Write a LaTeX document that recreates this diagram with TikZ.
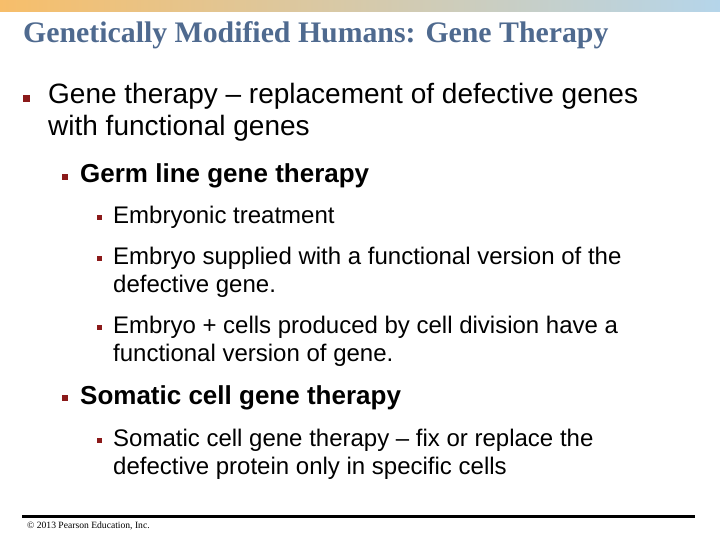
\documentclass[tikz,border=0pt]{standalone}
\usepackage{fontspec}
\setmainfont{Liberation Serif}
\setsansfont{Liberation Sans}
\definecolor{titleblue}{HTML}{4F6A8F}
\definecolor{bulletred}{HTML}{8B1A1A}
\definecolor{barorange}{HTML}{F7BE6A}
\definecolor{barblue}{HTML}{B5D5EA}
\tikzset{
  lone/.style={anchor=base west,inner sep=0pt,font=\sffamily\fontsize{28}{28}\selectfont},
  ltwo/.style={anchor=base west,inner sep=0pt,font=\sffamily\bfseries\fontsize{26}{26}\selectfont},
  lthree/.style={anchor=base west,inner sep=0pt,font=\sffamily\fontsize{24}{24}\selectfont},
  blt/.style={fill=bulletred,minimum size=#1,inner sep=0pt,anchor=south west}
}
\begin{document}
\begin{tikzpicture}[x=1pt,y=-1pt]
    \useasboundingbox (0,0) rectangle (720,540);
    \shade[left color=barorange,right color=barblue] (0,0) rectangle (720,12);

    \node[anchor=base west,inner sep=0pt,text=titleblue,font=\bfseries\fontsize{29.8}{30}\selectfont] (title) at (23,43) {Genetically Modified Humans: Gene Therapy};

    \node[blt=7pt] (b1) at (23,102) {};
    \node[lone] (t1a) at (48,104) {Gene therapy -- replacement of defective genes};
    \node[lone] (t1b) at (48,136) {with functional genes};

    \node[blt=6pt] (b2) at (62,180) {};
    \node[ltwo] (t2) at (80,183) {Germ line gene therapy};

    \node[blt=5pt] (b3) at (97,220) {};
    \node[lthree] (t3) at (113,223) {Embryonic treatment};
    \node[blt=5pt] (b4) at (97,261) {};
    \node[lthree] (t4a) at (113,264) {Embryo supplied with a functional version of the};
    \node[lthree] (t4b) at (113,292) {defective gene.};
    \node[blt=5pt] (b5) at (97,330) {};
    \node[lthree] (t5a) at (113,333) {Embryo + cells produced by cell division have a};
    \node[lthree] (t5b) at (113,361) {functional version of gene.};

    \node[blt=6pt] (b6) at (62,401) {};
    \node[ltwo] (t6) at (80,404) {Somatic cell gene therapy};

    \node[blt=5pt] (b7) at (97,443) {};
    \node[lthree] (t7a) at (113,446) {Somatic cell gene therapy -- fix or replace the};
    \node[lthree] (t7b) at (113,474) {defective protein only in specific cells};

    \draw[line width=3pt] (22,516) -- (695,516);
    \node[anchor=base west,inner sep=0pt,font=\fontsize{9.6}{10}\selectfont] (foot) at (27,528) {\textcopyright{} 2013 Pearson Education, Inc.};
\end{tikzpicture}
\end{document}
